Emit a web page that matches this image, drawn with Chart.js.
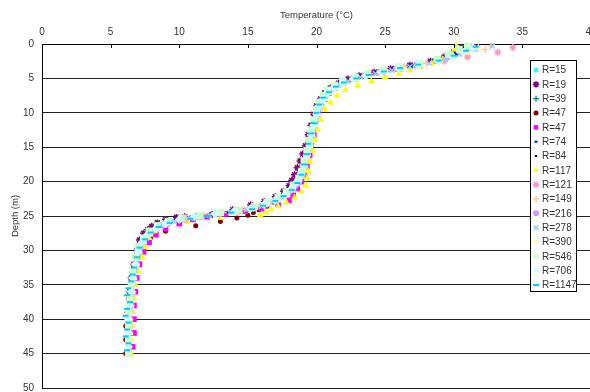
<!DOCTYPE html>
<html>
<head>
<meta charset="utf-8">
<script src="https://cdn.jsdelivr.net/npm/chart.js@4.4.1/dist/chart.umd.min.js"></script>
<style>
  html, body { margin: 0; padding: 0; background: #fff; overflow: hidden; }
  #wrap { width: 600px; height: 395px; }
</style>
</head>
<body>
<div id="wrap"><canvas id="profile" width="600" height="395"></canvas></div>
<script>
// temperature profiles, depth (m) vs temperature (C)
var seriesLabels = ['R=15', 'R=19', 'R=39', 'R=47', 'R=47', 'R=74', 'R=84', 'R=117',
    'R=121', 'R=149', 'R=216', 'R=278', 'R=390', 'R=546', 'R=706', 'R=1147'];

var depthA = [0.3, 0.8, 1.5, 2.2, 2.8, 3.3, 3.8, 4.3, 4.8, 5.4, 6, 6.7, 7.5, 8.5, 9.5, 11, 12.5, 14, 15.5, 17,
    18.5, 19.5, 20.5, 21.5, 22.3, 23, 23.6, 24.1, 24.5, 24.9, 25.3, 25.8, 26.4, 27.2, 28.2, 29.5, 31, 33, 35, 37,
    39, 41, 43, 45];
var depthB = [0.5, 1.2, 1.9, 2.5, 3.1, 3.6, 4.1, 4.6, 5.1, 5.7, 6.4, 7.1, 8, 9, 10.2, 11.8, 13.2, 14.8, 16.2, 17.8,
    19, 20, 21, 22, 22.7, 23.3, 23.9, 24.3, 24.7, 25.1, 25.5, 26.1, 26.8, 27.7, 28.8, 30.2, 32, 34, 36, 38,
    40, 42, 44];
var depthR19 = [0.5, 1.2, 1.9, 2.5, 3.1, 3.6, 4.1, 4.6, 5.1, 5.7, 6.4, 7.1, 8, 9, 10.2, 11.8, 13.2, 14.8, 16, 17,
    18, 19, 19.8, 20.6, 21.4, 22.2, 22.9, 23.4, 24.1, 24.8, 25.0, 25.1, 25.2, 25.5, 26.0, 26.5, 27.0, 27.5, 28.5, 30,
    32, 34, 36, 38, 40, 42];
var depthR1147 = [0.4, 1.0, 1.7, 2.4, 3.0, 3.5, 4.0, 4.5, 5.0, 5.6, 6.2, 7.0, 7.8, 8.8, 10, 11.5, 13, 14.5, 16, 17.5,
    19, 20.2, 21.2, 22.1, 22.8, 23.5, 24.0, 24.5, 25.0, 25.4, 26.0, 26.6, 27.4, 28.4, 29.6, 31, 32.5, 33.5, 34.5, 35.5,
    36.5, 37.5, 38.5, 39.5, 40.5, 41.5, 42.5, 43.5, 44.5];

var tempR15 = [31.3, 30.8, 30.1, 29.0, 27.6, 26.2, 25.0, 23.8, 22.8, 22.0, 21.4, 20.9, 20.5, 20.2, 20.0, 19.8, 19.6, 19.5, 19.3, 19.1,
    18.9, 18.7, 18.4, 17.9, 17.3, 16.5, 15.6, 14.4, 13.0, 11.5, 10.2, 9.1, 8.4, 7.8, 7.5, 7.1, 6.9, 6.7, 6.5, 6.4,
    6.3, 6.3, 6.3, 6.2];
var tempR19 = [30.6, 30.0, 29.3, 28.3, 26.8, 25.4, 24.2, 23.1, 22.3, 21.6, 21.0, 20.6, 20.3, 20.0, 19.8, 19.6, 19.4, 19.2, 19.0, 18.8,
    18.6, 18.4, 18.2, 18.0, 17.6, 17.0, 16.2, 15.2, 13.9, 12.4, 11.3, 10.4, 9.8, 9.0, 8.4, 8.0, 7.7, 7.4, 7.1, 6.9,
    6.7, 6.5, 6.4, 6.4, 6.3, 6.3];
var tempR39 = [30.9, 30.2, 29.5, 28.5, 27.0, 25.6, 24.4, 23.3, 22.5, 21.7, 21.1, 20.7, 20.4, 20.2, 20.0, 19.8, 19.6, 19.5, 19.3, 19.1,
    18.9, 18.6, 18.2, 17.6, 17.0, 16.2, 15.2, 14.0, 12.6, 11.0, 9.9, 8.9, 8.2, 7.7, 7.3, 7.0, 6.8, 6.6, 6.5, 6.4,
    6.4, 6.3, 6.3];
var tempR47a = [31.0, 30.5, 29.8, 28.9, 27.5, 26.0, 24.8, 23.7, 22.7, 21.9, 21.3, 20.8, 20.5, 20.2, 20.0, 19.8, 19.6, 19.4, 19.2, 19.0,
    18.8, 18.6, 18.3, 17.8, 17.3, 16.9, 16.4, 15.8, 15.4, 15.0, 14.2, 13.0, 11.2, 9.0, 7.9, 7.3, 7.0, 6.7, 6.5, 6.3,
    6.2, 6.1, 6.1, 6.1];
var tempR47b = [31.5, 30.6, 29.8, 28.8, 27.3, 25.9, 24.6, 23.5, 22.7, 21.9, 21.3, 20.9, 20.6, 20.3, 20.1, 19.9, 19.8, 19.6, 19.5, 19.3,
    19.1, 18.9, 18.6, 18.3, 18.0, 17.2, 16.0, 14.8, 13.4, 12.0, 11.0, 10.0, 9.0, 8.3, 7.8, 7.4, 7.1, 6.9, 6.8, 6.7,
    6.7, 6.7, 6.6];
var tempR74 = [31.8, 31.0, 30.2, 29.3, 28.1, 26.7, 25.4, 24.2, 23.1, 22.3, 21.6, 21.1, 20.7, 20.4, 20.2, 19.9, 19.8, 19.6, 19.4, 19.2,
    19.0, 18.8, 18.5, 18.0, 17.4, 16.6, 15.6, 14.6, 13.5, 11.6, 10.3, 9.2, 8.5, 7.9, 7.5, 7.2, 6.9, 6.7, 6.6, 6.5,
    6.4, 6.4, 6.3, 6.3];
var tempR84 = [30.7, 30.1, 29.4, 28.4, 26.9, 25.5, 24.3, 23.2, 22.4, 21.7, 21.1, 20.7, 20.4, 20.1, 19.9, 19.7, 19.6, 19.4, 19.2, 19.0,
    18.8, 18.5, 18.1, 17.5, 16.9, 16.0, 15.0, 13.8, 12.3, 10.8, 9.7, 8.8, 8.1, 7.6, 7.3, 7.0, 6.8, 6.6, 6.5, 6.4,
    6.3, 6.3, 6.2];
var tempR117 = [30.2, 30.1, 29.9, 29.2, 28.4, 27.6, 26.8, 26.0, 25.0, 24.0, 23.0, 22.1, 21.5, 21.0, 20.6, 20.3, 20.1, 19.9, 19.7, 19.5,
    19.4, 19.3, 19.2, 18.9, 18.4, 17.8, 17.2, 16.7, 16.3, 15.9, 13.0, 10.6, 8.9, 8.2, 7.8, 7.5, 7.3, 7.0, 6.8, 6.7,
    6.6, 6.6, 6.5, 6.5];
var tempR121 = [34.3, 33.2, 31.0, 29.3, 27.5, 25.9, 24.6, 23.5, 22.6, 21.9, 21.3, 20.8, 20.5, 20.2, 20.0, 19.8, 19.6, 19.5, 19.3, 19.1,
    18.9, 18.6, 18.2, 17.7, 17.1, 16.4, 15.4, 14.3, 12.9, 11.5, 10.4, 9.2, 8.4, 7.8, 7.4, 7.1, 6.9, 6.7, 6.6, 6.5,
    6.4, 6.4, 6.3];
var tempR149 = [32.7, 32.3, 30.8, 29.5, 28.0, 26.4, 25.1, 23.9, 22.9, 22.1, 21.5, 21.0, 20.6, 20.3, 20.1, 19.9, 19.7, 19.5, 19.3, 19.1,
    18.9, 18.7, 18.4, 17.9, 17.3, 16.6, 15.7, 14.6, 13.2, 11.8, 10.5, 9.3, 8.5, 7.9, 7.5, 7.2, 6.9, 6.7, 6.6, 6.5,
    6.4, 6.4, 6.3, 6.3];
var tempR216 = [31.2, 30.5, 29.7, 28.7, 27.3, 26.2, 24.9, 23.6, 22.8, 22.0, 21.4, 20.9, 20.5, 20.3, 20.1, 19.9, 19.7, 19.5, 19.3, 19.1,
    18.9, 18.7, 18.3, 17.8, 17.2, 16.5, 15.5, 14.4, 13.0, 11.6, 10.3, 9.2, 8.4, 7.8, 7.4, 7.1, 6.9, 6.7, 6.5, 6.4,
    6.4, 6.3, 6.3];
var tempR278 = [32.8, 31.6, 30.4, 29.4, 28.2, 26.8, 25.5, 24.3, 23.2, 22.3, 21.6, 21.1, 20.7, 20.4, 20.2, 20.0, 19.8, 19.6, 19.4, 19.2,
    19.0, 18.8, 18.5, 18.0, 17.5, 16.8, 16.0, 14.9, 13.7, 12.2, 10.8, 9.6, 8.7, 8.0, 7.6, 7.2, 7.0, 6.8, 6.6, 6.5,
    6.4, 6.4, 6.3, 6.3];
var tempR390 = [31.8, 31.0, 30.0, 29.0, 27.6, 26.3, 25.0, 23.8, 22.9, 22.1, 21.5, 21.0, 20.6, 20.3, 20.1, 19.9, 19.7, 19.5, 19.3, 19.1,
    18.9, 18.7, 18.3, 17.8, 17.2, 16.4, 15.4, 14.3, 12.9, 11.4, 10.2, 9.1, 8.4, 7.8, 7.4, 7.1, 6.9, 6.7, 6.6, 6.5,
    6.4, 6.4, 6.3];
var tempR546 = [31.0, 30.4, 29.6, 28.8, 27.5, 26.0, 24.9, 23.7, 22.8, 21.9, 21.3, 20.8, 20.5, 20.2, 20.0, 19.8, 19.6, 19.5, 19.3, 19.1,
    18.9, 18.7, 18.3, 17.8, 17.2, 16.4, 15.5, 14.3, 13.0, 11.5, 10.2, 9.2, 8.4, 7.8, 7.4, 7.0, 6.8, 6.6, 6.5, 6.4,
    6.3, 6.3, 6.3, 6.3];
var tempR706 = [31.4, 30.7, 29.9, 28.9, 27.4, 26.0, 24.7, 23.6, 22.7, 21.9, 21.3, 20.8, 20.5, 20.2, 20.0, 19.8, 19.6, 19.5, 19.3, 19.1,
    18.9, 18.6, 18.2, 17.7, 17.0, 16.2, 15.2, 14.0, 12.6, 11.1, 10.0, 9.0, 8.3, 7.7, 7.3, 7.0, 6.8, 6.6, 6.5, 6.4,
    6.3, 6.3, 6.3];
var tempR1147 = [31.6, 30.9, 30.0, 28.9, 27.4, 26.1, 24.9, 23.8, 22.9, 22.0, 21.4, 20.9, 20.5, 20.2, 20.0, 19.8, 19.6, 19.4, 19.3, 19.1,
    18.9, 18.6, 18.2, 17.6, 17.0, 16.1, 15.3, 13.8, 12.0, 10.8, 9.3, 8.5, 7.9, 7.5, 7.1, 6.9, 6.7, 6.6, 6.5, 6.3,
    6.2, 6.4, 6.2, 6.1, 6.3, 6.2, 6.1, 6.3, 6.2];

var seriesDepths = [depthA, depthR19, depthB, depthA, depthB, depthA, depthB, depthA,
    depthB, depthA, depthB, depthA, depthB, depthA, depthB, depthR1147];
var seriesTemps = [tempR15, tempR19, tempR39, tempR47a, tempR47b, tempR74, tempR84, tempR117,
    tempR121, tempR149, tempR216, tempR278, tempR390, tempR546, tempR706, tempR1147];

var xTicks = [0, 5, 10, 15, 20, 25, 30, 35, 40];
var yTicks = [0, 5, 10, 15, 20, 25, 30, 35, 40, 45, 50];

/*Estilos de marcadores (como Excel)*/
var markerStyles = [
    {color: '#00FFFF', style: 'crossRot', r: 3, w: 1.5},
    {color: '#800080', style: 'star', r: 3.5, w: 1.5},
    {color: '#008080', style: 'cross', r: 3, w: 1.2},
    {color: '#800000', style: 'circle', r: 2.5, w: 0},
    {color: '#FF00FF', style: 'rect', r: 4, w: 0},
    {color: '#0000FF', style: 'line', r: 1.5, w: 2},
    {color: '#000080', style: 'line', r: 1.2, w: 2},
    {color: '#FFFF00', style: 'triangle', r: 4, w: 0},
    {color: '#FF99CC', style: 'star', r: 3.5, w: 1.5},
    {color: '#FFCC99', style: 'cross', r: 3.5, w: 1.5},
    {color: '#CC99FF', style: 'circle', r: 3, w: 0},
    {color: '#99CCFF', style: 'crossRot', r: 3.5, w: 1.5},
    {color: '#FFFF99', style: 'triangle', r: 4, w: 0},
    {color: '#CCFFCC', style: 'rect', r: 5, w: 0},
    {color: '#CCFFFF', style: 'rectRot', r: 4.5, w: 0},
    {color: '#00CCFF', style: 'line', r: 3, w: 2}
];

var FONT = '"Liberation Sans", Arial, sans-serif';
var TEXT = '#333333';

function buildDatasets(){
    var list = [], i, j, pts, st;
    for(i = 0; i < seriesLabels.length; i++){
        pts = [];
        for(j = 0; j < seriesDepths[i].length; j++){
            pts.push({x: seriesTemps[i][j], y: seriesDepths[i][j]});
        }
        st = markerStyles[i];
        list.push({
            label: seriesLabels[i],
            data: pts,
            pointStyle: st.style,
            pointRadius: st.r,
            pointBorderWidth: st.w,
            backgroundColor: st.color,
            borderColor: st.color,
            showLine: false,
            clip: false,
            order: seriesLabels.length - i
        });
    }
    return list;
}

/*Marcas de eje x hacia adentro*/
var innerTicks = {
    id: 'innerTicks',
    afterDatasetsDraw: function(chart){
        var ctx = chart.ctx, sx = chart.scales.x, top = chart.chartArea.top, i, px;
        ctx.save();
        ctx.strokeStyle = '#000';
        ctx.lineWidth = 1;
        for(i = 1; i < xTicks.length; i++){
            px = Math.round(sx.getPixelForValue(xTicks[i])) + 0.5;
            ctx.beginPath();
            ctx.moveTo(px, top);
            ctx.lineTo(px, top + 4);
            ctx.stroke();
        }
        ctx.restore();
    }
};

/*Leyenda con recuadro dentro del area*/
var boxLegend = {
    id: 'boxLegend',
    afterDraw: function(chart){
        var ctx = chart.ctx, left = 530, top = 60, w = 46, h = 231, rowH = 14.33;
        var sets = chart.data.datasets, i, y, st, drawPt = Chart.helpers && Chart.helpers.drawPoint;
        ctx.save();
        ctx.fillStyle = '#fff';
        ctx.fillRect(left, top, w, h);
        ctx.strokeStyle = '#000';
        ctx.lineWidth = 1;
        ctx.strokeRect(left + 0.5, top + 0.5, w, h);
        for(i = 0; i < sets.length; i++){
            y = top + 10 + i * rowH;
            st = markerStyles[i];
            ctx.fillStyle = st.color;
            ctx.strokeStyle = st.color;
            ctx.lineWidth = st.w || 1;
            if(drawPt){
                drawPt(ctx, {pointStyle: st.style, radius: Math.min(st.r, 3.2), rotation: 0, borderWidth: st.w}, left + 6, y);
            } else {
                ctx.fillRect(left + 4, y - 2, 4, 4);
            }
            ctx.fillStyle = TEXT;
            ctx.font = '10px ' + FONT;
            ctx.textBaseline = 'middle';
            ctx.textAlign = 'left';
            ctx.fillText(sets[i].label, left + 12, y + 0.5);
        }
        ctx.restore();
    }
};

new Chart(document.getElementById('profile'), {
    type: 'scatter',
    data: {datasets: buildDatasets()},
    plugins: [innerTicks, boxLegend],
    options: {
        responsive: false,
        animation: false,
        layout: {padding: {left: 0, right: 9, top: 0, bottom: 7}},
        plugins: {legend: {display: false}, tooltip: {enabled: false}},
        scales: {
            x: {
                type: 'linear', position: 'top', min: 0, max: 40,
                afterBuildTicks: function(s){ s.ticks = xTicks.map(function(v){ return {value: v}; }); },
                ticks: {padding: 6, color: TEXT, font: {family: FONT, size: 10}},
                grid: {display: false, drawTicks: false},
                border: {display: true, color: '#000', width: 1},
                title: {display: true, text: 'Temperature (°C)', color: TEXT,
                    font: {family: FONT, size: 9.5}, padding: {top: 9.5, bottom: 0}},
                afterFit: function(s){ s.height = 44; s.paddingLeft = 0; s.paddingRight = 0; }
            },
            y: {
                type: 'linear', reverse: true, min: 0, max: 50,
                afterBuildTicks: function(s){ s.ticks = yTicks.map(function(v){ return {value: v}; }); },
                ticks: {padding: 8, color: TEXT, font: {family: FONT, size: 10}},
                grid: {color: '#222', lineWidth: 1, drawTicks: false},
                border: {display: true, color: '#000', width: 1},
                title: {display: true, text: 'Depth (m)', color: TEXT,
                    font: {family: FONT, size: 9.5}, padding: {top: 10, bottom: 0}},
                afterFit: function(s){ s.width = 42; s.paddingTop = 0; s.paddingBottom = 0; }
            }
        }
    }
});
</script>
</body>
</html>
